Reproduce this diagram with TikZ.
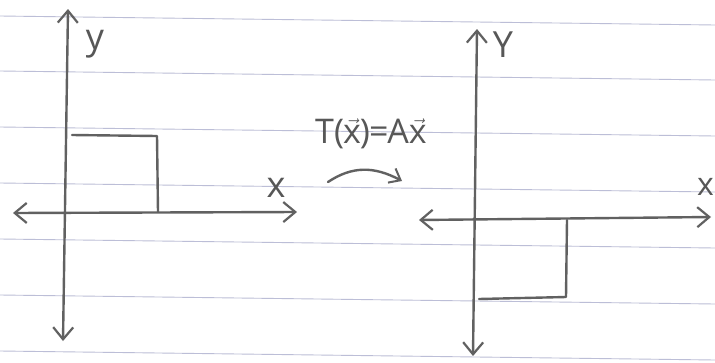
\documentclass[tikz,border=0pt]{standalone}
\usepackage{fontspec}
\setmainfont{Open Sans}
\usetikzlibrary{arrows.meta}
\begin{document}
\begin{tikzpicture}[x=1pt,y=-1pt,
  pen/.style={line width=2.4pt, draw=black!62, line cap=round, line join=round},
  axis/.style={pen, {Straight Barb[length=12pt,width=20pt,line width=2.2pt]}-{Straight Barb[length=12pt,width=20pt,line width=2.2pt]}},
  rule/.style={line width=0.9pt, draw={rgb,255:red,188;green,190;blue,215}},
  lbl/.style={text=black!66, inner sep=0pt, font=\fontsize{36}{40}\selectfont}]
\useasboundingbox (0,0) rectangle (715,362);
\fill[white] (0,0) rectangle (715,362);
% ruled lines of the paper
\foreach \y in {16,71,127,183,239,295,351}
  \draw[rule] (0,\y) -- (715,\y+9);
% left picture
\coordinate (ly1) at (68,9);
\coordinate (ly2) at (63,341);
\coordinate (lx1) at (13,213);
\coordinate (lx2) at (297,212);
\draw[axis] (ly1) -- (ly2);
\draw[axis] (lx1) -- (lx2);
\coordinate (la) at (72,135);
\coordinate (lb) at (157,136);
\coordinate (lc) at (158,212);
\draw[pen] (la) -- (lb) -- (lc);
\node[lbl] (lyl) at (95,44) {y};
\node[lbl] (lxl) at (276,188) {x};
% transformation label and arrow
\node[lbl, font=\fontsize{34}{38}\selectfont] (tl) at (371,134) {T(\kern-1pt$\vec{\mbox{x}}$\kern-1pt)\kern-1pt=\kern-1ptA$\vec{\mbox{x}}$};
\coordinate (ta) at (328,182);
\coordinate (tb) at (402,181);
\draw[pen, -{Straight Barb[length=10pt,width=16pt,line width=2pt]}] (ta) .. controls (352,166) and (374,166) .. (tb);
% right picture
\coordinate (ry1) at (477,29);
\coordinate (ry2) at (473,356);
\coordinate (rx1) at (419,220);
\coordinate (rx2) at (711,217);
\draw[axis] (ry1) -- (ry2);
\draw[axis] (rx1) -- (rx2);
\coordinate (ra) at (567,220);
\coordinate (rb) at (566,297);
\coordinate (rc) at (479,299);
\draw[pen] (ra) -- (rb) -- (rc);
\node[lbl] (ryl) at (503,45) {Y};
\node[lbl, anchor=east, font=\fontsize{32}{36}\selectfont] (rxl) at (714,187) {x};
\end{tikzpicture}
\end{document}
